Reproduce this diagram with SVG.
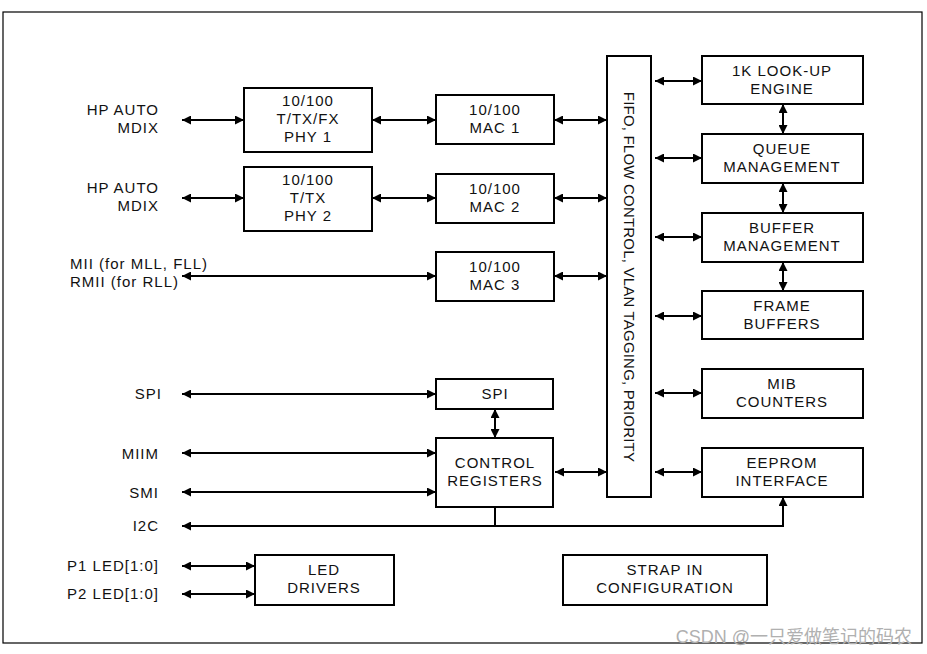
<svg xmlns="http://www.w3.org/2000/svg" width="927" height="654" viewBox="0 0 927 654">
<style>
.box{fill:#fff;stroke:#000;stroke-width:2}
.t{font-family:"Liberation Sans",Arial,sans-serif;font-size:15px;letter-spacing:1px;fill:#111;text-anchor:middle}
.l{font-family:"Liberation Sans",Arial,sans-serif;font-size:15px;letter-spacing:1px;fill:#111;text-anchor:end}
.c{stroke:#000;stroke-width:2;fill:none}
</style>
<defs>
<marker id="ah" viewBox="0 0 10 10" refX="10" refY="5" markerWidth="10" markerHeight="9" markerUnits="userSpaceOnUse" orient="auto-start-reverse">
<path d="M0,0 L10,5 L0,10 z" fill="#000"/>
</marker>
</defs>
<rect x="3" y="12" width="919" height="631" fill="#fff" stroke="#000" stroke-width="1.2"/>

<g id="connectors">
<line class="c" x1="182" y1="120" x2="244" y2="120" marker-start="url(#ah)" marker-end="url(#ah)"/>
<line class="c" x1="372" y1="120" x2="436" y2="120" marker-start="url(#ah)" marker-end="url(#ah)"/>
<line class="c" x1="554" y1="120" x2="607" y2="120" marker-start="url(#ah)" marker-end="url(#ah)"/>
<line class="c" x1="182" y1="198" x2="244" y2="198" marker-start="url(#ah)" marker-end="url(#ah)"/>
<line class="c" x1="372" y1="198" x2="436" y2="198" marker-start="url(#ah)" marker-end="url(#ah)"/>
<line class="c" x1="554" y1="198" x2="607" y2="198" marker-start="url(#ah)" marker-end="url(#ah)"/>
<line class="c" x1="182" y1="276" x2="436" y2="276" marker-start="url(#ah)" marker-end="url(#ah)"/>
<line class="c" x1="554" y1="276" x2="607" y2="276" marker-start="url(#ah)" marker-end="url(#ah)"/>
<line class="c" x1="655" y1="81" x2="702" y2="81" marker-start="url(#ah)" marker-end="url(#ah)"/>
<line class="c" x1="655" y1="158" x2="702" y2="158" marker-start="url(#ah)" marker-end="url(#ah)"/>
<line class="c" x1="655" y1="237" x2="702" y2="237" marker-start="url(#ah)" marker-end="url(#ah)"/>
<line class="c" x1="655" y1="316" x2="702" y2="316" marker-start="url(#ah)" marker-end="url(#ah)"/>
<line class="c" x1="655" y1="393" x2="702" y2="393" marker-start="url(#ah)" marker-end="url(#ah)"/>
<line class="c" x1="655" y1="472" x2="702" y2="472" marker-start="url(#ah)" marker-end="url(#ah)"/>
<line class="c" x1="783" y1="104" x2="783" y2="134" marker-start="url(#ah)" marker-end="url(#ah)"/>
<line class="c" x1="783" y1="183" x2="783" y2="213" marker-start="url(#ah)" marker-end="url(#ah)"/>
<line class="c" x1="783" y1="262" x2="783" y2="291" marker-start="url(#ah)" marker-end="url(#ah)"/>
<line class="c" x1="555" y1="472" x2="607" y2="472" marker-start="url(#ah)" marker-end="url(#ah)"/>
<line class="c" x1="182" y1="394" x2="436" y2="394" marker-start="url(#ah)" marker-end="url(#ah)"/>
<line class="c" x1="495" y1="409" x2="495" y2="438" marker-start="url(#ah)" marker-end="url(#ah)"/>
<line class="c" x1="182" y1="453" x2="436" y2="453" marker-start="url(#ah)" marker-end="url(#ah)"/>
<line class="c" x1="182" y1="492" x2="436" y2="492" marker-start="url(#ah)" marker-end="url(#ah)"/>
<line class="c" x1="495" y1="507" x2="495" y2="526"/>
<polyline class="c" points="182,526 783,526 783,497" marker-start="url(#ah)" marker-end="url(#ah)"/>
<line class="c" x1="182" y1="566" x2="255" y2="566" marker-start="url(#ah)" marker-end="url(#ah)"/>
<line class="c" x1="182" y1="594" x2="255" y2="594" marker-start="url(#ah)" marker-end="url(#ah)"/>
</g>

<g id="labels">
<text class="l" x="159" y="115">HP AUTO</text>
<text class="l" x="159" y="133">MDIX</text>
<text class="l" x="159" y="193">HP AUTO</text>
<text class="l" x="159" y="211">MDIX</text>
<text class="l" x="70" y="269" style="text-anchor:start">MII (for MLL, FLL)</text>
<text class="l" x="70" y="287" style="text-anchor:start">RMII (for RLL)</text>
<text class="l" x="162" y="399">SPI</text>
<text class="l" x="159" y="459">MIIM</text>
<text class="l" x="159" y="498">SMI</text>
<text class="l" x="159" y="531">I2C</text>
<text class="l" x="159" y="571">P1 LED[1:0]</text>
<text class="l" x="159" y="599">P2 LED[1:0]</text>
</g>

<g id="phy1"><rect class="box" x="244" y="88" width="128" height="64"/>
<text class="t" x="308" y="106">10/100</text><text class="t" x="308" y="124">T/TX/FX</text><text class="t" x="308" y="142">PHY 1</text></g>
<g id="phy2"><rect class="box" x="244" y="167" width="128" height="64"/>
<text class="t" x="308" y="185">10/100</text><text class="t" x="308" y="203">T/TX</text><text class="t" x="308" y="221">PHY 2</text></g>
<g id="mac1"><rect class="box" x="436" y="95" width="118" height="49"/>
<text class="t" x="495" y="115">10/100</text><text class="t" x="495" y="133">MAC 1</text></g>
<g id="mac2"><rect class="box" x="436" y="174" width="118" height="49"/>
<text class="t" x="495" y="194">10/100</text><text class="t" x="495" y="212">MAC 2</text></g>
<g id="mac3"><rect class="box" x="436" y="252" width="118" height="49"/>
<text class="t" x="495" y="272">10/100</text><text class="t" x="495" y="290">MAC 3</text></g>
<g id="fifo"><rect class="box" x="607" y="56" width="44" height="441"/>
<text class="t" style="letter-spacing:0.2px" transform="translate(624 277) rotate(90)" x="0" y="0">FIFO, FLOW CONTROL, VLAN TAGGING, PRIORITY</text></g>
<g id="lookup"><rect class="box" x="702" y="56" width="161" height="48"/>
<text class="t" x="782" y="76">1K LOOK-UP</text><text class="t" x="782" y="94">ENGINE</text></g>
<g id="queue"><rect class="box" x="702" y="134" width="161" height="49"/>
<text class="t" x="782" y="154">QUEUE</text><text class="t" x="782" y="172">MANAGEMENT</text></g>
<g id="buffer"><rect class="box" x="702" y="213" width="161" height="49"/>
<text class="t" x="782" y="233">BUFFER</text><text class="t" x="782" y="251">MANAGEMENT</text></g>
<g id="frame"><rect class="box" x="702" y="291" width="161" height="48"/>
<text class="t" x="782" y="311">FRAME</text><text class="t" x="782" y="329">BUFFERS</text></g>
<g id="mib"><rect class="box" x="702" y="369" width="161" height="49"/>
<text class="t" x="782" y="389">MIB</text><text class="t" x="782" y="407">COUNTERS</text></g>
<g id="eeprom"><rect class="box" x="702" y="448" width="161" height="49"/>
<text class="t" x="782" y="468">EEPROM</text><text class="t" x="782" y="486">INTERFACE</text></g>
<g id="spi"><rect class="box" x="436" y="379" width="117" height="30"/>
<text class="t" x="495" y="399">SPI</text></g>
<g id="ctrl"><rect class="box" x="436" y="438" width="117" height="69"/>
<text class="t" x="495" y="468">CONTROL</text><text class="t" x="495" y="486">REGISTERS</text></g>
<g id="led"><rect class="box" x="255" y="555" width="139" height="50"/>
<text class="t" x="324" y="575">LED</text><text class="t" x="324" y="593">DRIVERS</text></g>
<g id="strap"><rect class="box" x="563" y="555" width="204" height="50"/>
<text class="t" x="665" y="575">STRAP IN</text><text class="t" x="665" y="593">CONFIGURATION</text></g>

<text x="912" y="643" style="font-family:'Liberation Sans','Noto Sans CJK SC',sans-serif;font-size:18px;fill:#b0b0b0;text-anchor:end">CSDN @一只爱做笔记的码农</text>
</svg>
